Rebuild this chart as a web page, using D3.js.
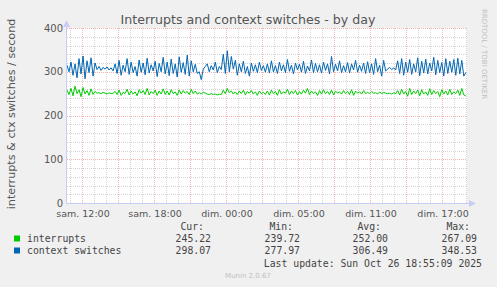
<!DOCTYPE html>
<html>
<head>
<meta charset="utf-8">
<script src="https://cdn.jsdelivr.net/npm/d3@7"></script>
<style>
  body { margin: 0; background: #f0f0f0; }
  svg { display: block; }
</style>
</head>
<body>
<svg width="497" height="287"></svg>
<script>
// hours relative to "sam. 12:00"
var tickHours = [0, 6, 12, 18, 24, 30];
var tickLabels = ["sam. 12:00", "sam. 18:00", "dim. 00:00", "dim. 05:00", "dim. 11:00", "dim. 17:00"];
var yTicks = [0, 100, 200, 300, 400];

var seriesNames = ["interrupts", "context switches"];
var curValues = ["245.22", "298.07"];
var minValues = ["239.72", "277.97"];
var avgValues = ["252.00", "306.49"];
var maxValues = ["267.09", "348.53"];

// one sample every 10 minutes
var interrupts = [
  258,248,262,245,267,250,259,243,264,249,257,246,261,248,255,
  251,252,250,253,251,249,252,250,251,
  255,248,258,246,253,250,260,247,256,249,254,245,259,251,257,248,262,247,255,250,258,246,256,249,261,248,
  256,247,259,250,254,246,258,249,257,251,255,248,260,250,256,249,
  252,250,253,251,
  249,248,250,248,249,247,249,248,
  258,250,262,252,256,249,254,
  248,256,250,258,247,255,251,257,249,254,246,256,250,253,248,
  256,247,258,250,255,246,259,249,254,251,260,248,256,250,257,247,255,249,258,251,262,248,256,250,254,246,257,249,259,250,255,248,258,247,256,251,254,249,257,250,255,248,259,246,256,251,254,249,257,250,
  253,250,255,251,252,249,254,250,253,251,
  250,251,249,252,250,
  257,247,260,249,255,244,262,248,256,250,258,245,259,249,254,246,261,248,257,250,255,243,259,249,256,247,260,248,254,250,258,246,262,247,245
];
var ctxSwitches = [
  315,300,322,292,318,286,330,295,336,284,325,298,332,290,320,
  305,312,303,310,306,311,304,309,302,
  318,296,326,292,315,300,330,294,322,298,312,290,327,299,320,293,331,297,316,302,324,289,319,300,333,295,
  322,291,329,296,318,288,334,299,321,294,338,290,325,300,317,296,
  300,282,306,312,
  318,300,314,304,322,298,312,305,
  340,296,348,300,335,306,326,
  292,318,300,324,296,312,290,320,301,316,298,322,303,314,299,
  318,297,325,300,314,296,322,302,316,298,328,301,315,295,320,304,317,299,324,296,313,302,327,298,319,300,316,297,322,303,318,295,335,300,317,302,325,298,314,300,321,297,318,304,326,299,315,301,320,296,
  323,298,318,294,330,300,315,290,326,302,
  306,310,305,309,304,
  325,296,330,292,322,299,328,294,318,300,332,291,324,297,329,295,320,302,333,293,326,298,321,290,330,296,324,299,328,292,331,295,326,290,298
];

var svg = d3.select("svg");
var plotLeft = 67, plotRight = 467, plotTop = 28, plotBottom = 203;
var tStart = -1.25, tEnd = 32.08;

var x = d3.scaleLinear().domain([tStart, tEnd]).range([plotLeft, plotRight]);
var y = d3.scaleLinear().domain([0, 400]).range([plotBottom, plotTop]);

// plot background
svg.append("rect")
  .attr("x", plotLeft).attr("y", plotTop)
  .attr("width", plotRight - plotLeft).attr("height", plotBottom - plotTop)
  .attr("fill", "#ffffff");

var grid = svg.append("g").attr("shape-rendering", "crispEdges");
var minorColor = "#d4d4d4", majorColor = "#f0b4b4";

// minor grid: every hour / every 20
d3.range(-1, 33).filter(h => h % 3 != 0).forEach(function(h) {
  grid.append("line")
    .attr("x1", Math.round(x(h)) + 0.5).attr("x2", Math.round(x(h)) + 0.5)
    .attr("y1", plotTop).attr("y2", plotBottom)
    .attr("stroke", minorColor).attr("stroke-dasharray", "1,1");
});
d3.range(20, 400, 20).filter(v => v % 100 != 0).forEach(function(v) {
  grid.append("line")
    .attr("x1", plotLeft).attr("x2", plotRight)
    .attr("y1", Math.round(y(v)) + 0.5).attr("y2", Math.round(y(v)) + 0.5)
    .attr("stroke", minorColor).attr("stroke-dasharray", "1,1");
});

// major grid: every 3 hours / every 100
d3.range(0, 33, 3).forEach(function(h) {
  grid.append("line")
    .attr("x1", Math.round(x(h)) + 0.5).attr("x2", Math.round(x(h)) + 0.5)
    .attr("y1", plotTop).attr("y2", plotBottom)
    .attr("stroke", majorColor).attr("stroke-dasharray", "1,1");
});
yTicks.forEach(function(v) {
  grid.append("line")
    .attr("x1", plotLeft).attr("x2", plotRight)
    .attr("y1", Math.round(y(v)) + 0.5).attr("y2", Math.round(y(v)) + 0.5)
    .attr("stroke", majorColor).attr("stroke-dasharray", "1,1");
});

// data lines
var step = (31.98 - tStart) / (interrupts.length - 1);
var line = d3.line()
  .x((d, i) => x(tStart + i * step))
  .y(d => y(d));

svg.append("path").datum(interrupts)
  .attr("d", line).attr("fill", "none")
  .attr("stroke", "#00cc00").attr("stroke-width", 1);
svg.append("path").datum(ctxSwitches)
  .attr("d", line).attr("fill", "none")
  .attr("stroke", "#0066b3").attr("stroke-width", 1);

// axes lines + arrows
svg.append("line")
  .attr("x1", plotLeft - 0.5).attr("x2", plotLeft - 0.5)
  .attr("y1", plotTop - 4).attr("y2", plotBottom + 1)
  .attr("stroke", "#c8cdf5");
svg.append("line")
  .attr("x1", plotLeft - 1).attr("x2", plotRight + 3)
  .attr("y1", plotBottom + 0.5).attr("y2", plotBottom + 0.5)
  .attr("stroke", "#c8cdf5");
svg.append("path")
  .attr("d", "M" + (plotLeft - 4) + "," + (plotTop - 1) + " L" + (plotLeft - 0.5) + "," + (plotTop - 8) + " L" + (plotLeft + 3) + "," + (plotTop - 1) + "Z")
  .attr("fill", "#c8cdf5");
svg.append("path")
  .attr("d", "M" + (plotRight + 2) + "," + (plotBottom - 3) + " L" + (plotRight + 9) + "," + (plotBottom + 0.5) + " L" + (plotRight + 2) + "," + (plotBottom + 4) + "Z")
  .attr("fill", "#c8cdf5");

var textColor = "#555555";

// y tick labels
svg.append("g").selectAll("text")
  .data(yTicks).enter().append("text")
  .attr("x", plotLeft - 4)
  .attr("y", d => y(d) + 3.5)
  .attr("text-anchor", "end")
  .attr("font-family", "DejaVu Sans")
  .attr("font-size", 10)
  .attr("fill", textColor)
  .text(d => d);

// x tick labels
svg.append("g").selectAll("text")
  .data(tickHours).enter().append("text")
  .attr("x", d => x(d) + 1)
  .attr("y", plotBottom + 13.5)
  .attr("text-anchor", "middle")
  .attr("font-family", "DejaVu Sans")
  .attr("font-size", 9.5)
  .attr("fill", textColor)
  .text((d, i) => tickLabels[i]);

// title
svg.append("text")
  .attr("x", 248).attr("y", 24)
  .attr("text-anchor", "middle")
  .attr("font-family", "DejaVu Sans")
  .attr("font-size", 12.6)
  .attr("fill", textColor)
  .text("Interrupts and context switches - by day");

// y axis label
svg.append("text")
  .attr("transform", "translate(15,114) rotate(-90)")
  .attr("text-anchor", "middle")
  .attr("font-family", "DejaVu Sans")
  .attr("font-size", 11.2)
  .attr("fill", textColor)
  .text("interrupts & ctx switches / second");

// rrdtool watermark
svg.append("text")
  .attr("transform", "translate(482,54) rotate(90)")
  .attr("text-anchor", "middle")
  .attr("font-family", "DejaVu Sans")
  .attr("font-size", 7)
  .attr("fill", "#c0c0c0")
  .text("RRDTOOL / TOBI OETIKER");

// legend
var mono = "DejaVu Sans Mono";
var legendColors = ["#00cc00", "#0066b3"];
var headers = ["Cur:", "Min:", "Avg:", "Max:"];
var headerX = [204, 293, 381, 470];
var valueX = [211, 300, 388, 477];
var columns = [curValues, minValues, avgValues, maxValues];

var legend = svg.append("g")
  .attr("font-family", mono)
  .attr("font-size", 9.8)
  .attr("fill", "#444444");

headers.forEach(function(h, i) {
  legend.append("text").attr("x", headerX[i]).attr("y", 230)
    .attr("text-anchor", "end").text(h);
});

seriesNames.forEach(function(name, r) {
  var yy = 242 + r * 12;
  legend.append("rect")
    .attr("x", 14).attr("y", yy - 6.5)
    .attr("width", 6).attr("height", 6)
    .attr("fill", legendColors[r]);
  legend.append("text").attr("x", 27).attr("y", yy).text(name);
  columns.forEach(function(col, c) {
    legend.append("text").attr("x", valueX[c]).attr("y", yy)
      .attr("text-anchor", "end").text(col[r]);
  });
});

legend.append("text")
  .attr("x", 482).attr("y", 267)
  .attr("text-anchor", "end")
  .text("Last update: Sun Oct 26 18:55:09 2025");

svg.append("text")
  .attr("x", 248).attr("y", 278)
  .attr("text-anchor", "middle")
  .attr("font-family", "DejaVu Sans")
  .attr("font-size", 7)
  .attr("fill", "#c0c0c0")
  .text("Munin 2.0.67");
</script>
</body>
</html>
